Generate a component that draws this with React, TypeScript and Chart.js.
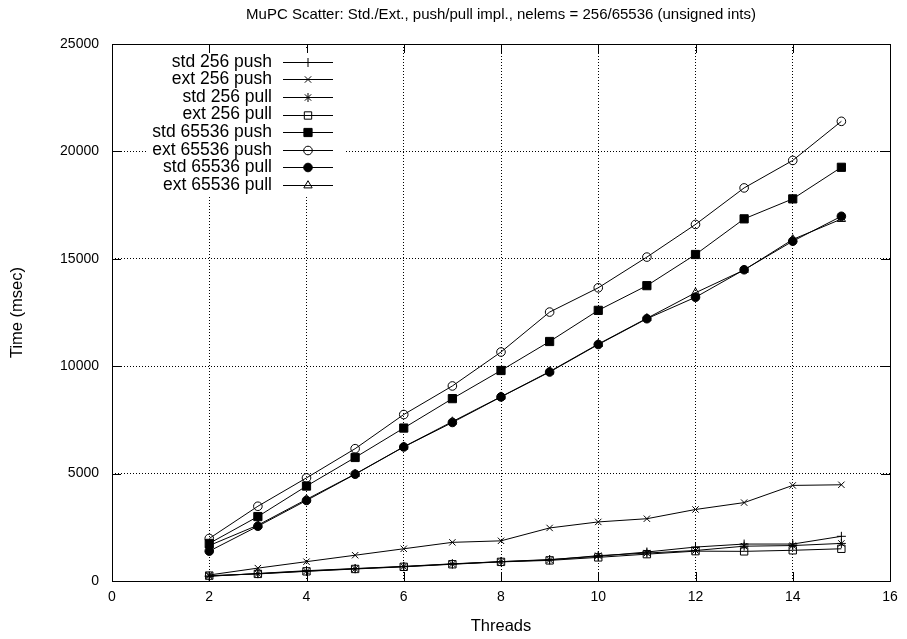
import React, { useEffect, useRef } from "react";
import { Chart, registerables } from "chart.js";
import { drawPoint } from "chart.js/helpers";

Chart.register(...registerables);

const chartTitle = "MuPC Scatter: Std./Ext., push/pull impl., nelems = 256/65536 (unsigned ints)";
const xTitle = "Threads";
const yTitle = "Time (msec)";

const threads = [2, 3, 4, 5, 6, 7, 8, 9, 10, 11, 12, 13, 14, 15];

const std256Push = [220, 350, 480, 580, 680, 800, 900, 1000, 1150, 1350, 1580, 1720, 1720, 2080];
const ext256Push = [280, 600, 900, 1200, 1500, 1800, 1870, 2470, 2750, 2900, 3330, 3650, 4450, 4480];
const std256Pull = [230, 340, 460, 570, 670, 790, 900, 980, 1180, 1300, 1420, 1620, 1650, 1750];
const ext256Pull = [250, 330, 450, 560, 660, 780, 890, 960, 1100, 1250, 1390, 1380, 1430, 1500];
const std65536Push = [1750, 3000, 4420, 5750, 7120, 8490, 9800, 11150, 12600, 13750, 15200, 16860, 17790, 19260];
const ext65536Push = [1980, 3480, 4800, 6160, 7750, 9080, 10660, 12520, 13650, 15080, 16600, 18300, 19580, 21400];
const std65536Pull = [1390, 2550, 3750, 4970, 6240, 7380, 8570, 9730, 11010, 12210, 13210, 14490, 15820, 16980];
const ext65536Pull = [1650, 2600, 3800, 4980, 6250, 7420, 8580, 9750, 11030, 12230, 13420, 14480, 15900, 16850];

const seriesNames = [
  "std 256 push",
  "ext 256 push",
  "std 256 pull",
  "ext 256 pull",
  "std 65536 push",
  "ext 65536 push",
  "std 65536 pull",
  "ext 65536 pull",
];
const seriesValues = [
  std256Push,
  ext256Push,
  std256Pull,
  ext256Pull,
  std65536Push,
  ext65536Push,
  std65536Pull,
  ext65536Pull,
];
const seriesMarkers = ["cross", "crossRot", "star", "rect", "rect", "circle", "circle", "triangle"];
const seriesFilled = [false, false, false, false, true, false, true, false];
const seriesRadius = [4.5, 4.5, 4.5, 5.2, 5.8, 4.3, 4.3, 4.8];

const FONT = "'Liberation Sans', Arial, Helvetica, sans-serif";

const boxPlugin = {
  id: "gnuplotBox",
  afterDatasetsDraw(chart: any) {
    const { ctx, chartArea } = chart;
    const { left, right, top, bottom } = chartArea;
    ctx.save();
    ctx.strokeStyle = "#000";
    ctx.lineWidth = 1;
    ctx.setLineDash([]);

    // opaque legend background
    const textRight = left + 160;
    ctx.fillStyle = "#fff";
    ctx.fillRect(left + 36, top + 6, 198, 145);

    const tl = 9;
    const xs = chart.scales.x;
    xs.ticks.forEach((t: any) => {
      const px = Math.round(xs.getPixelForValue(t.value)) + 0.5;
      ctx.beginPath();
      ctx.moveTo(px, bottom);
      ctx.lineTo(px, bottom - tl);
      ctx.moveTo(px, top);
      ctx.lineTo(px, top + tl);
      ctx.stroke();
    });
    const ys = chart.scales.y;
    ys.ticks.forEach((t: any) => {
      const py = Math.round(ys.getPixelForValue(t.value)) + 0.5;
      ctx.beginPath();
      ctx.moveTo(left, py);
      ctx.lineTo(left + tl, py);
      ctx.moveTo(right, py);
      ctx.lineTo(right - tl, py);
      ctx.stroke();
    });
    ctx.strokeRect(Math.round(left) + 0.5, Math.round(top) + 0.5, Math.round(right - left), Math.round(bottom - top));

    // title
    ctx.fillStyle = "#000";
    ctx.font = `15px ${FONT}`;
    ctx.textAlign = "center";
    ctx.textBaseline = "middle";
    ctx.fillText(chartTitle, (left + right) / 2, top - 29);

    // legend (inside, top-left, text right-aligned with sample on right)
    ctx.font = `17.5px ${FONT}`;
    ctx.textAlign = "right";
    chart.data.datasets.forEach((ds: any, i: number) => {
      const y = top + 17.7 + i * 17.6;
      ctx.fillStyle = "#000";
      ctx.fillText(ds.label, textRight, y);
      const x0 = textRight + 11;
      const x1 = textRight + 61;
      ctx.beginPath();
      ctx.moveTo(x0, Math.round(y) + 0.5);
      ctx.lineTo(x1, Math.round(y) + 0.5);
      ctx.stroke();
      ctx.fillStyle = ds.pointBackgroundColor;
      ctx.strokeStyle = "#000";
      drawPoint(ctx, { pointStyle: ds.pointStyle, radius: ds.pointRadius, borderWidth: 1, rotation: 0 }, (x0 + x1) / 2, Math.round(y) + 0.5);
    });
    ctx.restore();
  },
};

export default function App() {
  const canvasRef = useRef<HTMLCanvasElement | null>(null);

  useEffect(() => {
    document.body.style.margin = "0";
    const canvas = canvasRef.current;
    if (!canvas) return;
    const datasets = seriesNames.map((name, i) => ({
      label: name,
      data: threads.map((t, j) => ({ x: t, y: seriesValues[i][j] })),
      borderColor: "#000",
      borderWidth: 1,
      pointStyle: seriesMarkers[i],
      pointRadius: seriesRadius[i],
      pointBorderColor: "#000",
      pointBorderWidth: 1,
      pointBackgroundColor: seriesFilled[i] ? "#000" : "rgba(0,0,0,0)",
      showLine: true,
      fill: false,
      tension: 0,
    }));
    const chart = new Chart(canvas, {
      type: "scatter",
      data: { datasets },
      options: {
        animation: false,
        responsive: false,
        devicePixelRatio: 1,
        layout: { padding: { left: 0, right: 17, top: 44, bottom: 0 } },
        plugins: {
          legend: { display: false },
          title: { display: false },
          tooltip: { enabled: false },
        },
        scales: {
          x: {
            type: "linear",
            min: 0,
            max: 16,
            afterFit: (s: any) => {
              s.height = 58;
            },
            ticks: {
              stepSize: 2,
              color: "#000",
              font: { family: FONT, size: 14 },
              padding: 8,
              maxRotation: 0,
              callback: (v: any) => String(v),
            },
            grid: {
              color: "#000",
              lineWidth: 1,
              drawTicks: false,
            },
            border: { display: false, dash: [1, 2] },
            title: {
              display: true,
              text: xTitle,
              color: "#000",
              font: { family: FONT, size: 16.5 },
              padding: { top: 0, bottom: 3 },
            },
          },
          y: {
            type: "linear",
            min: 0,
            max: 25000,
            afterFit: (s: any) => {
              s.width = 112;
            },
            ticks: {
              stepSize: 5000,
              color: "#000",
              font: { family: FONT, size: 14 },
              padding: 13,
              callback: (v: any) => String(v),
            },
            grid: {
              color: "#000",
              lineWidth: 1,
              drawTicks: false,
            },
            border: { display: false, dash: [1, 2] },
            title: {
              display: true,
              text: yTitle,
              color: "#000",
              font: { family: FONT, size: 16.5 },
              padding: { top: 8, bottom: 0 },
            },
          },
        },
      },
      plugins: [boxPlugin],
    } as any);
    return () => chart.destroy();
  }, []);

  return (
    <div style={{ width: 907, height: 639 }}>
      <canvas ref={canvasRef} width={907} height={639} style={{ display: "block" }} />
    </div>
  );
}
